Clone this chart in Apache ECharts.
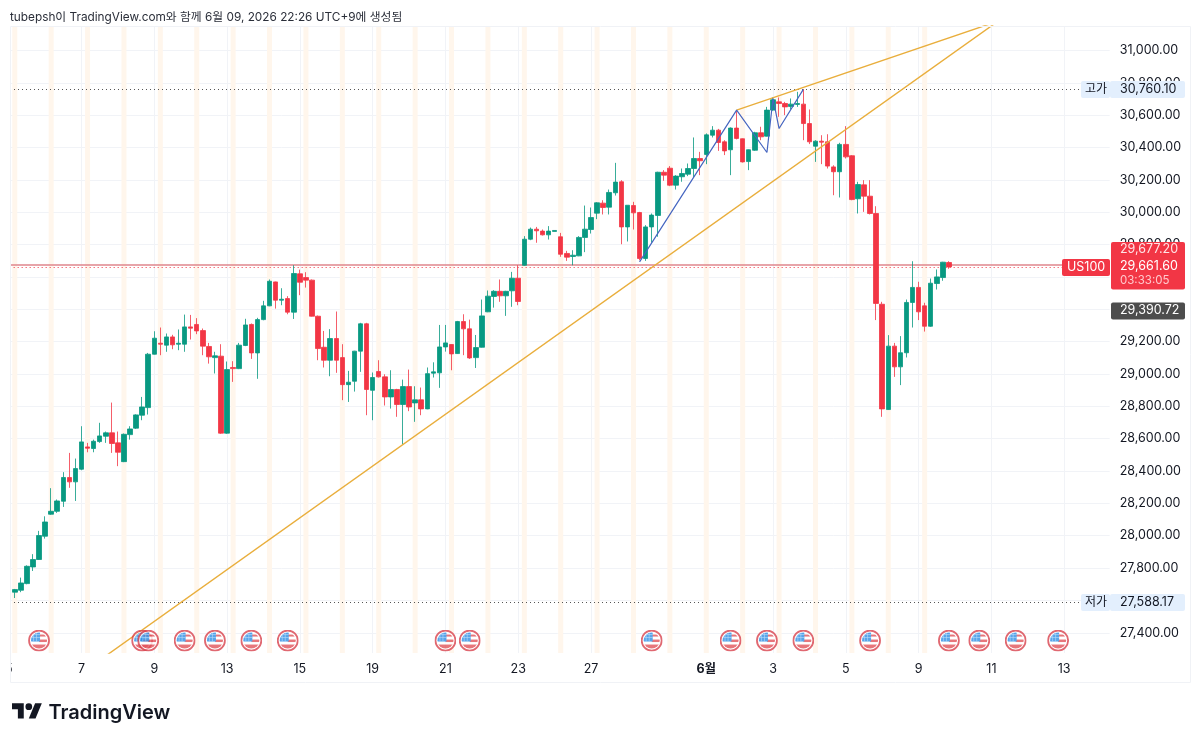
<!DOCTYPE html>
<html><head><meta charset="utf-8">
<style>html,body{margin:0;padding:0;background:#fff}#c{width:1200px;height:742px}</style>
<script src="https://cdn.jsdelivr.net/npm/echarts@6/dist/echarts.min.js"></script>
</head><body><div id="c"></div>
<script>
const slotCount = 182;
const opens = [27600,27651,27663,27704,27807,27853,27997,28133,28151,28213,28360,28333,28411,28549,28539,28582,28615,28636,28574,28458,28625,28665,28745,28792,29122,29190,29178,29229,29184,29184,29291,29306,29268,29170,29101,29110,28634,29040,29033,29176,29306,29130,29336,29421,29569,29456,29466,29382,29619,29596,29580,29357,29165,29085,29219,29101,28934,28955,29141,29310,28899,29015,28982,28858,28904,28811,28922,28821,28840,28784,29005,29007,29167,29182,29126,29324,29279,29101,29165,29384,29479,29511,29483,29514,29592,29672,29833,29895,29883,29860,29881,29848,29745,29726,29730,29844,29893,29994,30056,30031,30120,30188,29909,30041,29998,29714,29909,29980,30247,30272,30167,30219,30235,30270,30332,30357,30476,30507,30435,30386,30520,30454,30313,30383,30491,30470,30631,30682,30672,30654,30666,30668,30548,30408,30439,30435,30280,30250,30419,30349,30083,30169,30099,29992,29431,28780,29172,29044,29131,29442,29535,29421,29295,29559,29596,29689];
const closes = [27625,27667,27708,27811,27853,28001,28085,28151,28215,28360,28333,28415,28580,28541,28584,28617,28636,28570,28516,28627,28660,28747,28796,29122,29221,29184,29229,29180,29190,29291,29283,29266,29172,29106,29112,28634,29027,29033,29178,29303,29130,29336,29421,29573,29456,29462,29382,29621,29567,29580,29357,29157,29085,29219,29085,28934,28949,29141,29310,28904,28978,28982,28858,28904,28811,28922,28796,28840,28784,29002,29013,29167,29192,29124,29324,29279,29099,29163,29359,29481,29511,29483,29511,29592,29448,29833,29895,29885,29860,29883,29887,29740,29722,29734,29844,29895,29967,30058,30029,30122,30186,29909,30043,29996,29714,29909,29982,30247,30229,30167,30223,30239,30270,30332,30318,30478,30507,30431,30379,30520,30456,30311,30386,30491,30466,30631,30695,30672,30651,30668,30672,30548,30435,30439,30433,30285,30250,30419,30342,30078,30171,30099,29992,29436,28784,29172,29044,29131,29442,29535,29384,29295,29561,29600,29691,29661.6];
const lows = [27588.17,27615,27651,27700,27782,27850,27982,28129,28141,28178,28296,28215,28405,28516,28516,28574,28574,28512,28430,28455,28594,28660,28714,28749,29120,29116,29137,29153,29147,29137,29213,29246,29116,29064,29003,28630,28630,28951,29030,29172,29093,28970,29332,29419,29404,29425,29369,29340,29487,29534,29355,29085,29040,28986,29007,28838,28827,28891,29013,28745,28714,28978,28805,28786,28735,28565,28770,28704,28745,28782,28978,28914,29138,29023,29124,29116,29093,29037,29163,29382,29410,29446,29359,29415,29425,29669,29827,29811,29856,29831,29881,29724,29699,29672,29728,29753,29868,29957,29986,29986,30103,29802,29819,29893,29703,29699,29811,29848,30194,30161,30140,30188,30223,30214,30229,30297,30462,30379,30353,30229,30450,30307,30260,30379,30445,30468,30627,30590,30600,30635,30651,30445,30421,30311,30297,30270,30105,30091,30332,30074,29992,30002,29986,29333,28735,28778,28982,28931,29102,29287,29333,29262,29291,29522,29576,29650];
const highs = [27632,27671,27741,27817,27886,28030,28120,28294,28224,28393,28512,28477,28677,28574,28594,28698,28644,28823,28644,28632,28677,28751,28858,29130,29264,29287,29250,29242,29275,29367,29365,29345,29281,29192,29137,29184,29077,29079,29192,29341,29312,29347,29452,29584,29571,29530,29481,29672,29645,29629,29584,29361,29266,29277,29386,29184,29019,29143,29316,29316,29009,29085,28998,29023,28908,28965,29027,28924,28916,29040,29072,29303,29303,29184,29328,29369,29336,29241,29460,29516,29518,29584,29514,29631,29672,29852,29905,29909,29893,29914,29887,29872,29761,29765,29852,30041,30029,30062,30074,30140,30305,30198,30043,30064,30002,29920,29992,30250,30260,30285,30229,30270,30301,30462,30373,30487,30532,30515,30445,30524,30631,30456,30388,30497,30528,30651,30709,30709,30682,30703,30744,30760.1,30635,30445,30476,30482,30290,30429,30532,30353,30188,30198,30198,30037,29446,29240,29192,29234,29460,29697,29570,29440,29590,29646,29693,29697];
const tickSlots = [0,12,24,36,48,60,72,84,96,115,126,138,150,162,174];
const tickNames = ['5','7','9','13','15','19','21','23','27','6월','3','5','9','11','13'];
const priceTicks = [27400,27600,27800,28000,28200,28400,28600,28800,29000,29200,29400,29600,29800,30000,30200,30400,30600,30800,31000];
const dayMarkSlots = [1,7,13,19,25,31,37,43,49,55,61,67,73,79,85,91,97,103,109,115,121,127,133,139,145,151];
const eventSlots = [5,22,23,29,34,40,46,72,76,106,119,125,131,142,155,160,166,173];
const eventPrice = 27352;
const risingLine = [[16,27257],[163,31178]];
const upperLine = [[120,30631],[162,31167]];
const waveLine = [[104,29693],[120,30631],[125,30369],[126,30703],[127,30517],[131,30759]];
const waveMarks = [[120,30730,'1'],[125,30254,'2'],[126,30804,'3'],[127,30408,'4'],[131,30853,'5']];
const highPrice = 30760.10, lowPrice = 27588.17, lastPrice = 29661.60, refPrice = 29677.20;
const axisMin = 27275, axisMax = 31151;

const UP='#089981', DOWN='#F23645', UPW='rgba(8,153,129,0.8)', DOWNW='rgba(242,54,69,0.8)';
const FONT = 'Inter, "Noto Sans CJK KR", sans-serif';
const categories = Array.from({length:slotCount},(_,i)=>String(i));
const tickMap = new Map(tickSlots.map((s,k)=>[s,tickNames[k]]));
const candles = opens.map((o,i)=>[o,closes[i],lows[i],highs[i]]);
const stripes = categories.map((_,i)=>dayMarkSlots.includes(i)?axisMax:null);
const fmt = v=>Number(v).toLocaleString('en-US',{minimumFractionDigits:2,maximumFractionDigits:2});
const flagSvg = '<svg xmlns="http://www.w3.org/2000/svg" width="44" height="44" viewBox="0 0 44 44"><defs><clipPath id="a"><circle cx="22" cy="22" r="16"/></clipPath></defs><circle cx="22" cy="22" r="20" fill="#fff" stroke="#d9434e" stroke-width="3.6"/><g clip-path="url(#a)"><rect x="0" y="0" width="44" height="44" fill="#fff"/><rect x="22" y="10" width="22" height="4" fill="#e2545b"/><rect x="22" y="20" width="22" height="5" fill="#e2545b"/><rect x="0" y="30" width="44" height="10" fill="#e2545b"/><rect x="4" y="4" width="20" height="20" fill="#2f8fe6"/><g stroke="#a9d4f8" stroke-width="1.2"><path d="M4 10h20M4 16h20M11 4v20M17 4v20"/></g></g></svg>';
const flagSymbol = 'image://data:image/svg+xml;charset=utf-8,'+encodeURIComponent(flagSvg);

function box(x,y,w,h,fill,r){return {type:'rect',z:50,shape:{x,y,width:w,height:h,r:r||0},style:{fill}};}
function txt(x,y,text,fill,size,extra){return {type:'text',z:60,x,y,style:Object.assign({text,fill,fontSize:size,fontFamily:FONT,textVerticalAlign:'middle',textAlign:'left'},extra||{})};}

const chart = echarts.init(document.getElementById('c'),null,{renderer:'canvas'});
chart.setOption({
  animation:false,
  backgroundColor:'#fff',
  grid:{left:5.67,top:26,width:1104,height:627},
  xAxis:{type:'category',data:categories,boundaryGap:true,
    axisLine:{show:false},
    axisTick:{show:false,alignWithLabel:true,interval:i=>tickMap.has(i)},
    axisLabel:{interval:i=>tickMap.has(i),
      formatter:(v)=>{const t=tickMap.get(+v)||'';return t.endsWith('월')?'{m|'+t+'}':t;},
      rich:{m:{fontWeight:700,fontSize:12.5,color:'#131722',fontFamily:FONT}},
      color:'#131722',fontSize:12.5,fontFamily:FONT,margin:10},
    splitLine:{show:true,alignWithLabel:true,interval:i=>tickMap.has(i),lineStyle:{color:'#f1f3f7',width:1}}},
  yAxis:{type:'value',position:'right',min:axisMin,max:axisMax,
    axisLine:{show:false},
    axisTick:{show:false,customValues:priceTicks},
    axisLabel:{customValues:priceTicks,formatter:fmt,color:'#131722',fontSize:12.5,fontFamily:FONT,margin:10},
    splitLine:{show:true,lineStyle:{color:'#f1f3f7',width:1}}},
  series:[
    {name:'days',type:'bar',data:stripes,barWidth:5,z:1,silent:true,itemStyle:{color:'#fff6ec'}},
    {name:'US100',type:'candlestick',data:candles,barWidth:5,z:5,
      itemStyle:{color:UP,color0:DOWN,borderColor:UPW,borderColor0:DOWNW,borderWidth:1},
      markLine:{silent:true,symbol:'none',animation:false,label:{show:false},
        data:[
          [{yAxis:highPrice,x:10},{yAxis:highPrice,x:1081}].map(p=>Object.assign(p,{lineStyle:{color:'#555',type:[1,3],width:1}})),
          [{yAxis:lowPrice,x:10},{yAxis:lowPrice,x:1081}].map(p=>Object.assign(p,{lineStyle:{color:'#555',type:[1,3],width:1}})),
          {yAxis:refPrice,lineStyle:{color:'#df868d',type:'solid',width:1.5}},
          {yAxis:lastPrice,lineStyle:{color:'#F23645',type:[1,3],width:1}}
        ]}},
    {name:'rising',type:'line',data:risingLine,showSymbol:false,z:6,lineStyle:{color:'#e9ae3c',width:1.4},silent:true},
    {name:'upper',type:'line',data:upperLine,showSymbol:false,z:6,lineStyle:{color:'#e9ae3c',width:1.4},silent:true},
    {name:'wave',type:'line',data:waveLine,showSymbol:false,z:7,lineStyle:{color:'#4565c0',width:1.2},silent:true},
    {name:'waveMarks',type:'scatter',data:waveMarks,symbolSize:1,itemStyle:{opacity:0},z:8,silent:true,
      label:{show:true,position:'inside',formatter:p=>p.data[2],color:'#3f62c8',fontSize:11,fontFamily:FONT,fontWeight:600}},
    {name:'events',type:'scatter',data:eventSlots.map(s=>[s,eventPrice]),symbol:flagSymbol,symbolSize:22,z:9,silent:true}
  ],
  graphic:{elements:[
    box(0,20,10,670,'#fff'),
    {type:'rect',z:40,shape:{x:10.5,y:26.5,width:1180,height:656},style:{fill:'none',stroke:'#f0f2f6',lineWidth:1}},
    txt(10,17,'tubepsh이 TradingView.com와 함께 6월 09, 2026 22:26 UTC+9에 생성됨','#2a2e39',11.8),
    box(1081,81,29,17,'#e3effd',2),
    box(1110,81,75,17,'#e3effd',2),
    txt(1085,89.5,'고가','#131722',12),
    txt(1120,89.5,fmt(highPrice),'#131722',12.5),
    box(1081,594,29,17,'#e3effd',2),
    box(1110,594,75,17,'#e3effd',2),
    txt(1085,602.5,'저가','#131722',12),
    txt(1120,602.5,fmt(lowPrice),'#131722',12.5),
    box(1062,259,48,17,DOWN,2),
    txt(1067,267.5,'US100','#fff',12.5),
    box(1111,242,74,47.5,DOWN,2),
    txt(1120,249.5,fmt(refPrice),'#ffe3e5',12.5),
    txt(1120,266.5,fmt(lastPrice),'#fff',12.5),
    txt(1120,281,'03:33:05','#ffc9cd',11.5),
    box(1111,302.5,74,17,'#4d4d4d',2),
    txt(1120,310.5,'29,390.72','#fff',12.5),
    {type:'polygon',z:60,x:12,y:700,scaleX:0.84,scaleY:0.84,shape:{points:[[0,4],[14,4],[14,22],[7,22],[7,11],[0,11]]},style:{fill:'#131722'}},
    {type:'polygon',z:60,x:12,y:700,scaleX:0.84,scaleY:0.84,shape:{points:[[20,22],[28,22],[35.5,4],[27.5,4]]},style:{fill:'#131722'}},
    {type:'circle',z:60,x:12,y:700,scaleX:0.84,scaleY:0.84,shape:{cx:20,cy:8,r:4},style:{fill:'#131722'}},
    txt(48.5,712.5,'TradingView','#131722',20,{fontWeight:600})
  ]}
});
</script></body></html>
